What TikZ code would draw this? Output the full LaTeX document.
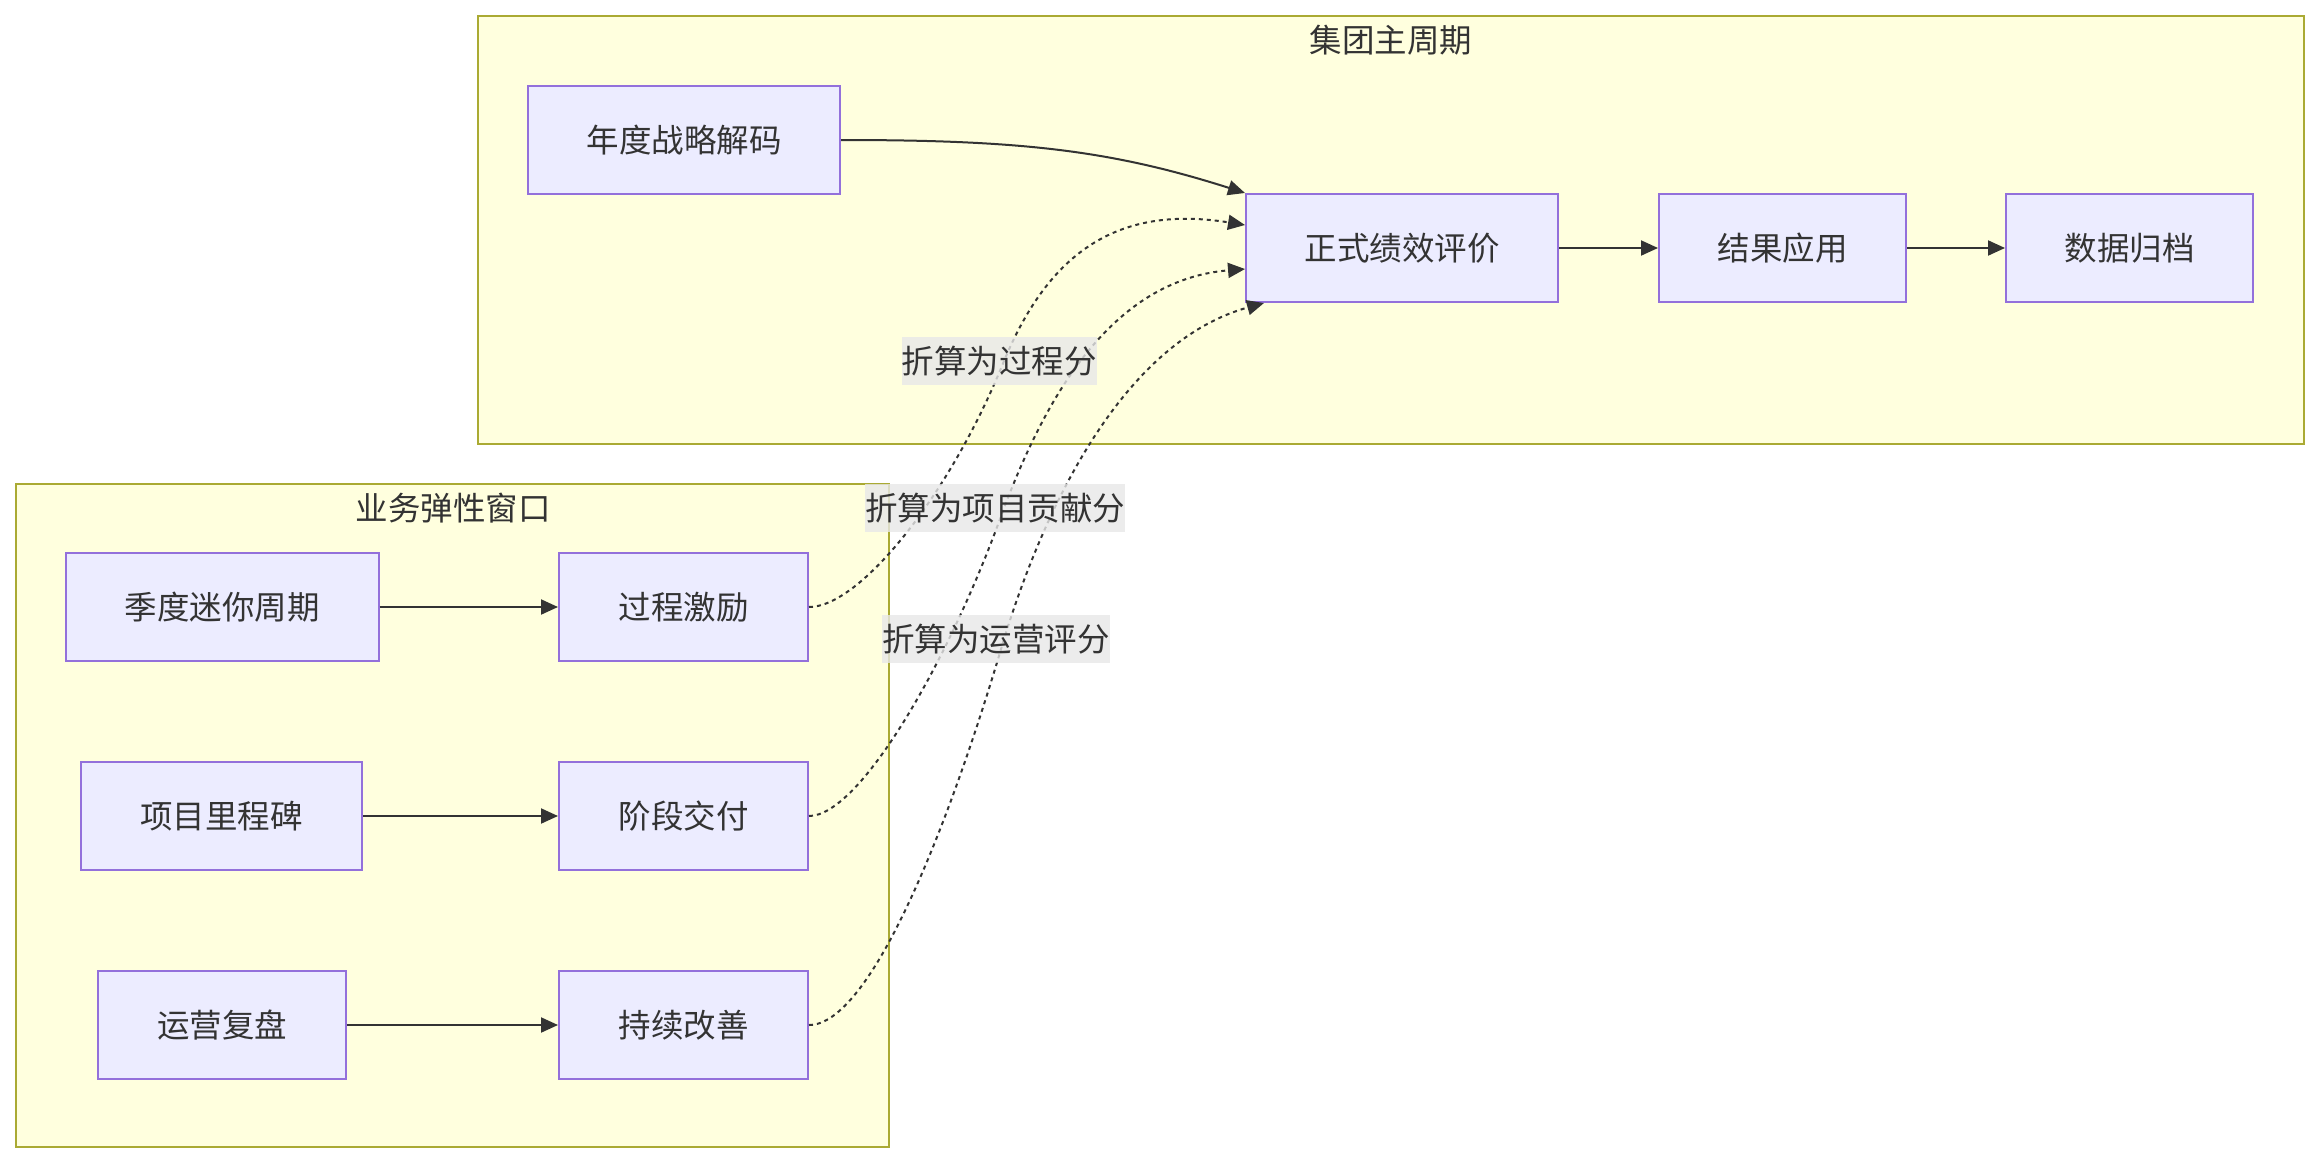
\documentclass[tikz,border=0pt]{standalone}
\usepackage{fontspec}
\setmainfont{Noto Sans CJK SC}
\usetikzlibrary{arrows.meta,calc}
\definecolor{nodefill}{HTML}{ECECFF}
\definecolor{nodeline}{HTML}{9370DB}
\definecolor{clfill}{HTML}{FFFFDE}
\definecolor{clline}{HTML}{AAAA33}
\definecolor{ink}{HTML}{333333}
\definecolor{lblbg}{HTML}{E8E8E8}
\tikzset{
  txt/.style={font=\fontsize{32.5pt}{39pt}\selectfont, text=ink},
  proc/.style={txt, draw=nodeline, fill=nodefill, line width=2pt, minimum height=108pt, inner sep=0pt},
  cluster/.style={draw=clline, fill=clfill, line width=2pt},
  cltitle/.style={txt, inner sep=0pt},
  flow/.style={draw=ink, line width=2pt, -{Triangle[length=17pt,width=15pt]}},
  dotflow/.style={flow, dash pattern=on 4pt off 4pt},
  lbl/.style={txt, fill=lblbg, fill opacity=0.8, text opacity=1, inner xsep=0pt, inner ysep=0pt, minimum height=48pt}
}
\begin{document}
\begin{tikzpicture}[x=1pt,y=-1pt]
\useasboundingbox (0,0) rectangle (2320,1164);
\fill[white] (0,0) rectangle (2320,1164);
% clusters
\draw[cluster] (478,16) rectangle (2304,444);
\node[cltitle] (t1) at (1391,40) {集团主周期};
\draw[cluster] (16,484) rectangle (889,1147);
\node[cltitle] (t2) at (453,508) {业务弹性窗口};
% nodes
\node[proc, minimum width=312pt] (n1) at (684,140) {年度战略解码};
\node[proc, minimum width=312pt] (n2) at (1402,248) {正式绩效评价};
\node[proc, minimum width=247pt] (n3) at (1782.5,248) {结果应用};
\node[proc, minimum width=247pt] (n4) at (2129.5,248) {数据归档};
\node[proc, minimum width=313pt] (b1) at (222,607) {季度迷你周期};
\node[proc, minimum width=249pt] (b2) at (683.5,607) {过程激励};
\node[proc, minimum width=281pt] (b3) at (221.5,816) {项目里程碑};
\node[proc, minimum width=249pt] (b4) at (683.5,816) {阶段交付};
\node[proc, minimum width=248pt] (b5) at (222,1025) {运营复盘};
\node[proc, minimum width=249pt] (b6) at (683.5,1025) {持续改善};
% solid edges
\draw[flow] (n1.east) .. controls (1020,140) and (1110,150) .. (n2.north west);
\draw[flow] (n2) -- (n3);
\draw[flow] (n3) -- (n4);
\draw[flow] (b1) -- (b2);
\draw[flow] (b3) -- (b4);
\draw[flow] (b5) -- (b6);
% dotted edges
\coordinate (m1) at (1004,361);
\coordinate (m2) at (1004,508);
\coordinate (m3) at (1004,639);
\draw[dotflow] (b2.east) .. controls (860,607) and (950,495) .. (m1)
  .. controls (1050,250) and (1120,205) .. ([yshift=23pt]n2.west);
\draw[dotflow] (b4.east) .. controls (860,816) and (950,660) .. (m2)
  .. controls (1045,400) and (1110,280) .. ([yshift=-21pt]n2.west);
\draw[dotflow] (b6.east) .. controls (870,1025) and (948,830) .. (m3)
  .. controls (1050,490) and (1130,340) .. ([xshift=19pt]n2.south west);
% labels
\node[lbl] (l1) at (999,361) {折算为过程分};
\node[lbl] (l2) at (995,508) {折算为项目贡献分};
\node[lbl] (l3) at (996,639) {折算为运营评分};
\end{tikzpicture}
\end{document}
